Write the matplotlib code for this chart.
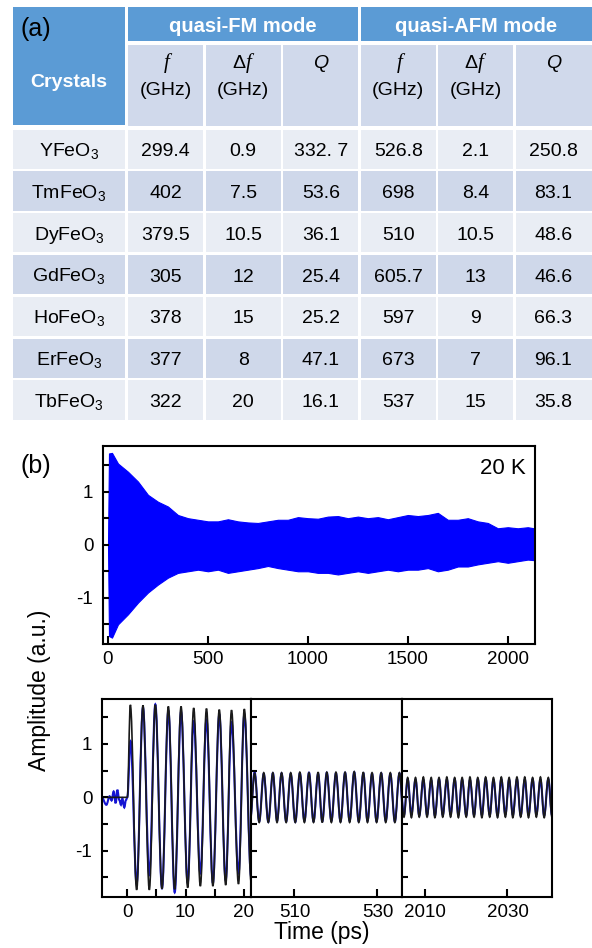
import matplotlib
matplotlib.use("Agg")
import matplotlib.pyplot as plt
from matplotlib.path import Path
from matplotlib.patches import PathPatch, Rectangle
from matplotlib.ticker import FixedLocator

plt.rcParams['font.family'] = ['Liberation Sans', 'DejaVu Sans']
plt.rcParams['axes.unicode_minus'] = False
plt.rcParams['mathtext.fontset'] = 'custom'
plt.rcParams['mathtext.rm'] = 'Liberation Sans'
plt.rcParams['mathtext.default'] = 'regular'

# ---- table (a) ----
crystals = ['YFeO$_3$', 'TmFeO$_3$', 'DyFeO$_3$', 'GdFeO$_3$', 'HoFeO$_3$', 'ErFeO$_3$', 'TbFeO$_3$']
fm_f = ['299.4', '402', '379.5', '305', '378', '377', '322']
fm_df = ['0.9', '7.5', '10.5', '12', '15', '8', '20']
fm_q = ['332. 7', '53.6', '36.1', '25.4', '25.2', '47.1', '16.1']
afm_f = ['526.8', '698', '510', '605.7', '597', '673', '537']
afm_df = ['2.1', '8.4', '10.5', '13', '9', '7', '15']
afm_q = ['250.8', '83.1', '48.6', '46.6', '66.3', '96.1', '35.8']
columns = [fm_f, fm_df, fm_q, afm_f, afm_df, afm_q]
col_heads = ['f', 'df', 'Q', 'f', 'df', 'Q']

# ---- trace (b), top: envelope of the oscillating signal ----
env_t = [-25, 0, 5, 20, 50, 100, 150, 200, 250, 300, 350, 400, 450, 500, 550, 600, 650, 700, 750,
         800, 850, 900, 950, 1000, 1050, 1100, 1150, 1200, 1250, 1300, 1350, 1400, 1450, 1500,
         1550, 1600, 1650, 1700, 1750, 1800, 1850, 1900, 1950, 2000, 2050, 2100, 2130]
env_hi = [0, 0, 1.72, 1.73, 1.53, 1.375, 1.19, 0.94, 0.81, 0.72, 0.56, 0.50, 0.47, 0.44,
          0.44, 0.48, 0.44, 0.42, 0.41, 0.44, 0.47, 0.47, 0.52, 0.50,
          0.49, 0.53, 0.54, 0.50, 0.53, 0.50, 0.52, 0.48, 0.52, 0.56,
          0.54, 0.56, 0.60, 0.47, 0.47, 0.50, 0.44, 0.41, 0.31, 0.33,
          0.31, 0.33, 0.31]
env_lo = [0, 0, -1.72, -1.75, -1.50, -1.31, -1.09, -0.90, -0.75, -0.62, -0.53, -0.50, -0.47, -0.50,
          -0.47, -0.53, -0.50, -0.47, -0.44, -0.40, -0.44, -0.47, -0.50, -0.50,
          -0.53, -0.53, -0.56, -0.53, -0.50, -0.53, -0.50, -0.47, -0.50, -0.47,
          -0.47, -0.44, -0.50, -0.47, -0.41, -0.41, -0.37, -0.34, -0.31, -0.34,
          -0.31, -0.28, -0.29]

# ---- trace (b), bottom: extrema (time in ps, amplitude) of data (blue) and fit (black) ----
p1_fit_t = [-5.0, 0.0, 0.52, 1.60, 2.69, 3.78, 4.81, 5.96, 7.05, 8.14, 9.23, 10.37, 11.40,
            12.55, 13.60, 14.70, 15.80, 16.90, 17.90, 19.10, 20.10, 21.30]
p1_fit_y = [0.0, 0.0, 1.73, -1.73, 1.72, -1.73, 1.73, -1.71, 1.70, -1.72, 1.70, -1.69, 1.67,
            -1.66, 1.66, -1.66, 1.64, -1.64, 1.63, -1.62, 1.65, -1.60]
p1_dat_t = [-4.4, -3.6, -3.04, -2.7, -2.35, -2.0, -1.72, -1.38, -1.09, -0.86, -0.52, -0.23, 0.0,
            0.55, 1.60, 2.69, 3.78, 4.81, 5.96, 7.05, 8.14, 9.23, 10.37, 11.40,
            12.55, 13.60, 14.70, 15.80, 16.90, 17.90, 19.10, 20.10, 21.30]
p1_dat_y = [0.0, -0.14, 0.02, -0.06, 0.11, -0.11, 0.14, -0.05, -0.14, -0.02, -0.19, -0.05, 0.0,
            1.05, -1.62, 1.68, -1.45, 1.74, -1.70, 1.62, -1.78, 1.60, -1.60, 1.42,
            -1.42, 1.45, -1.60, 1.55, -1.55, 1.40, -1.42, 1.55, -1.50]

p2_t = [499.3, 500.4, 501.5, 502.6, 503.7, 504.8, 505.8, 506.9, 508.0, 509.1,
        510.2, 511.3, 512.4, 513.5, 514.6, 515.7, 516.7, 517.8, 518.9, 520.0,
        521.1, 522.2, 523.3, 524.4, 525.5, 526.6, 527.6, 528.7, 529.8, 530.9,
        532.0, 533.1, 534.2, 535.3, 536.4]
p2_fit_y = [-0.47, 0.45, -0.47, 0.46, -0.47, 0.46, -0.47, 0.46, -0.47, 0.46,
            -0.47, 0.47, -0.47, 0.46, -0.47, 0.47, -0.47, 0.47, -0.47, 0.47,
            -0.47, 0.47, -0.47, 0.48, -0.47, 0.47, -0.47, 0.46, -0.47, 0.46,
            -0.47, 0.46, -0.47, 0.46, -0.47]
p2_dat_y = [-0.44, 0.47, -0.45, 0.44, -0.46, 0.45, -0.44, 0.45, -0.45, 0.44,
            -0.46, 0.45, -0.44, 0.46, -0.45, 0.44, -0.45, 0.46, -0.44, 0.45,
            -0.45, 0.46, -0.44, 0.47, -0.45, 0.45, -0.44, 0.44, -0.45, 0.45,
            -0.44, 0.44, -0.45, 0.45, -0.44]

p3_t = [2003.9, 2004.9, 2005.8, 2006.7, 2007.7, 2008.6, 2009.6, 2010.5, 2011.5, 2012.4,
        2013.4, 2014.3, 2015.3, 2016.2, 2017.2, 2018.1, 2019.0, 2020.0, 2020.9, 2021.9,
        2022.8, 2023.8, 2024.7, 2025.7, 2026.6, 2027.6, 2028.5, 2029.5, 2030.4, 2031.3,
        2032.3, 2033.2, 2034.2, 2035.1, 2036.1, 2037.0, 2038.0, 2038.9, 2039.9, 2040.8]
p3_fit_y = [0.36, -0.37, 0.37, -0.38, 0.37, -0.37, 0.38, -0.37, 0.37, -0.38,
            0.37, -0.37, 0.38, -0.37, 0.37, -0.38, 0.37, -0.37, 0.38, -0.37,
            0.37, -0.38, 0.38, -0.37, 0.37, -0.38, 0.38, -0.37, 0.37, -0.38,
            0.38, -0.37, 0.38, -0.38, 0.37, -0.37, 0.38, -0.38, 0.37, -0.37]
p3_dat_y = [0.32, -0.33, 0.34, -0.32, 0.33, -0.34, 0.33, -0.33, 0.32, -0.34,
            0.34, -0.33, 0.33, -0.32, 0.34, -0.33, 0.33, -0.34, 0.32, -0.33,
            0.34, -0.33, 0.35, -0.33, 0.33, -0.34, 0.34, -0.32, 0.33, -0.33,
            0.34, -0.34, 0.33, -0.33, 0.34, -0.32, 0.33, -0.34, 0.34, -0.33]

W, H = 592, 948
HDR = '#5B9BD5'
SUB = '#D0D9EB'
ROW_COLORS = ['#E9EDF4', '#CFD8EA']

fig = plt.figure(figsize=(W / 100, H / 100), dpi=100)

tab = fig.add_axes([0, 0, 1, 1], zorder=-1)
tab.set_xlim(0, W)
tab.set_ylim(H, 0)
tab.axis('off')

edges = [127, 204.5, 282, 359.5, 437, 514.5, 594]
name_x0, name_x1 = 11.7, 126.3
g = 1.3
row_top, row_h = 128.2, 41.8


def cell(x0, x1, y0, y1, color):
    tab.add_patch(Rectangle((x0 + g, y0 + g), x1 - x0 - 2 * g, y1 - y0 - 2 * g,
                            facecolor=color, edgecolor='none'))


cell(name_x0, name_x1, 5.7, 126.3, HDR)
cell(edges[0], edges[3], 5.7, 42.0, HDR)
cell(edges[3], edges[6], 5.7, 42.0, HDR)
tab.text((name_x0 + name_x1) / 2, 87, 'Crystals', color='white', fontsize=14,
         fontweight='bold', ha='center', va='baseline')
tab.text((edges[0] + edges[3]) / 2, 32, 'quasi-FM mode', color='white', fontsize=14.5,
         fontweight='bold', ha='center', va='baseline')
tab.text((edges[3] + edges[6] - 2) / 2, 32, 'quasi-AFM mode', color='white', fontsize=14.5,
         fontweight='bold', ha='center', va='baseline')
tab.text(21, 36, '(a)', fontsize=18, ha='left', va='baseline')

for i, head in enumerate(col_heads):
    x0, x1 = edges[i], edges[i + 1]
    cx = (x0 + min(x1, 592)) / 2
    cell(x0, x1, 43.5, 127.0, SUB)
    if head == 'Q':
        tab.text(cx, 68, 'Q', fontsize=14, style='italic', ha='center', va='baseline')
        continue
    if head == 'f':
        tab.text(cx + 1, 68, 'f', fontsize=15, family='Liberation Serif', style='italic',
                 ha='center', va='baseline')
    else:
        tab.text(cx + 2, 68, '\u0394', fontsize=14, ha='right', va='baseline')
        tab.text(cx + 2.5, 68, 'f', fontsize=15, family='Liberation Serif', style='italic',
                 ha='left', va='baseline')
    tab.text(cx, 95, '(GHz)', fontsize=14, ha='center', va='baseline')

for r, name in enumerate(crystals):
    y0 = row_top + r * row_h
    color = ROW_COLORS[r % 2]
    base = y0 + row_h / 2 + 7
    cell(name_x0, name_x1, y0, y0 + row_h, color)
    tab.text((name_x0 + name_x1) / 2, base, name, fontsize=14, ha='center', va='baseline')
    for i, col in enumerate(columns):
        x0, x1 = edges[i], edges[i + 1]
        cell(x0, x1, y0, y0 + row_h, color)
        tab.text((x0 + min(x1, 592)) / 2, base, col[r], fontsize=14, ha='center', va='baseline')


# ---- plots (b) ----
def wave_path(ts, ys, c=0.364):
    # smooth curve through extrema, horizontal tangent at each one
    verts = [(ts[0], ys[0])]
    codes = [Path.MOVETO]
    for t0, y0, t1, y1 in zip(ts[:-1], ys[:-1], ts[1:], ys[1:]):
        h = t1 - t0
        verts += [(t0 + c * h, y0), (t1 - c * h, y1), (t1, y1)]
        codes += [Path.CURVE4] * 3
    return Path(verts, codes)


def style(ax, xticks, minor_x=None, ylabels=True):
    for s in ax.spines.values():
        s.set_linewidth(1.5)
    ax.set_ylim(-1.865, 1.84)
    ax.yaxis.set_major_locator(FixedLocator([-1, 0, 1]))
    ax.yaxis.set_minor_locator(FixedLocator([-1.5, -0.5, 0.5, 1.5]))
    ax.xaxis.set_major_locator(FixedLocator(xticks))
    if minor_x:
        ax.xaxis.set_minor_locator(FixedLocator(minor_x))
    ax.tick_params(which='both', direction='in', top=False, right=False,
                   labelsize=13.5, width=1.5)
    ax.tick_params(axis='x', which='both', length=6, pad=5)
    ax.tick_params(axis='y', which='both', length=4.5, pad=7)
    if not ylabels:
        ax.tick_params(axis='y', labelleft=False)


def fax(x0, y_top, x1, y_bot):
    return fig.add_axes([x0 / W, 1 - y_bot / H, (x1 - x0) / W, (y_bot - y_top) / H])


ax_top = fax(103, 446, 535, 644)
ax_top.fill_between(env_t, env_lo, env_hi, color='#0000FF', lw=0.8)
style(ax_top, [0, 500, 1000, 1500, 2000])
ax_top.set_xlim(-25, 2136)
ax_top.set_ylim(-1.87, 1.86)
fig.text(526 / W, 1 - 474 / H, '20 K', fontsize=16, ha='right', va='baseline')
fig.text(20 / W, 1 - 473 / H, '(b)', fontsize=18, ha='left', va='baseline')

panel_x = [102, 251.3, 401.5, 552]
panels = [
    (p1_dat_t, p1_dat_y, p1_fit_t, p1_fit_y, (-4.35, 21.3), [0, 10, 20], [5, 15]),
    (p2_t, p2_dat_y, p2_t, p2_fit_y, (499.6, 535.8), [510, 530], None),
    (p3_t, p3_dat_y, p3_t, p3_fit_y, (2004.3, 2040.8), [2010, 2030], None),
]
for k, (dt, dy, ft, fy, xl, xt, mx) in enumerate(panels):
    ax = fax(panel_x[k], 699, panel_x[k + 1], 897)
    ax.add_patch(PathPatch(wave_path(dt, dy), fill=False, edgecolor='#1414D2', lw=1.5))
    ax.add_patch(PathPatch(wave_path(ft, fy), fill=False, edgecolor='#1a1a1a', lw=1.2))
    style(ax, xt, mx, ylabels=(k == 0))
    ax.set_xlim(*xl)

fig.text(40 / W, 1 - 690 / H, 'Amplitude (a.u.)', fontsize=16.5, rotation=90,
         ha='center', va='center')
fig.text(322 / W, 1 - 932 / H, 'Time (ps)', fontsize=16.5, ha='center', va='center')

fig.savefig('out.png', dpi=100)
